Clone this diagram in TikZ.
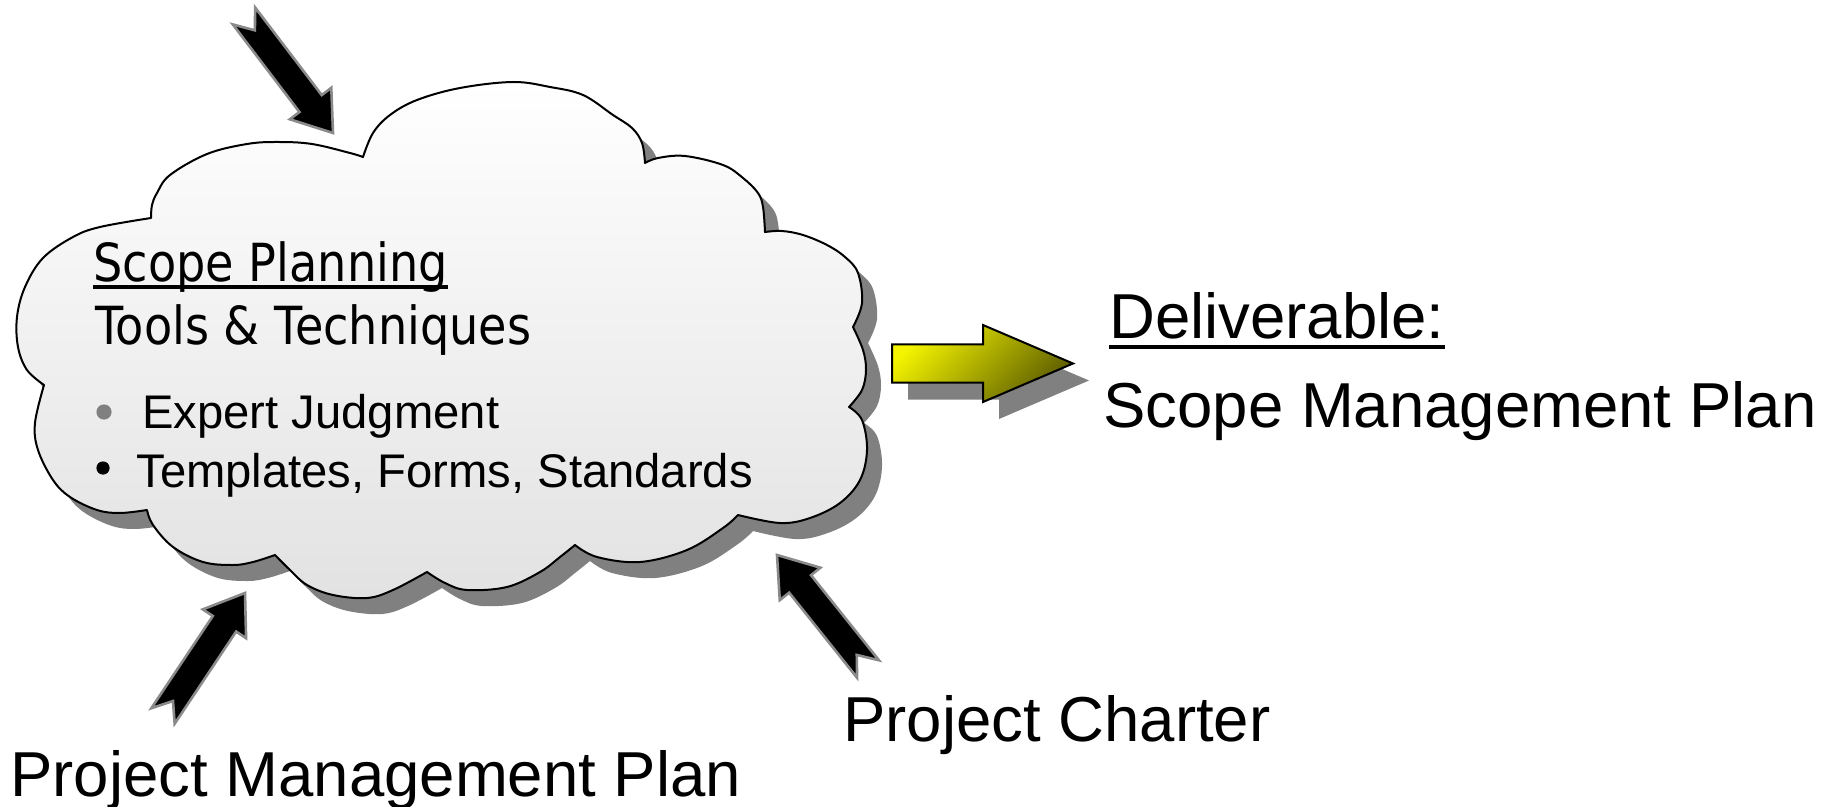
\documentclass[tikz,border=0pt]{standalone}
\usepackage{graphicx}
\usepackage{fontspec}
\setmainfont{Liberation Sans}
\newfontfamily\headfont{DejaVu Sans}
\usetikzlibrary{calc}

\definecolor{shadowgray}{HTML}{808080}
\definecolor{cloudbottom}{HTML}{E2E2E2}
\definecolor{arrowyellow}{HTML}{F4F400}
\definecolor{arrowolive}{HTML}{5E5E00}
\definecolor{arrowedge}{HTML}{8A8A8A}

\tikzset{
  biglabel/.style={inner sep=0pt, anchor=base west, font=\fontsize{31.75}{38}\selectfont},
  heading/.style={inner sep=0pt, anchor=base west, font=\headfont\fontsize{26.25}{31}\selectfont},
  itemtext/.style={inner sep=0pt, anchor=base west, font=\fontsize{23.6}{28}\selectfont},
  inputarrow/.style={fill=black, draw=arrowedge, line width=1.3pt, line join=miter},
  outline/.style={draw=black, line width=1pt, line join=round},
}

% notched block arrow from #1 (tail) to #2 (tip)
\newcommand\blockarrow[2]{%
  \path[inputarrow]
    ($(#1)!7pt!90:(#2)$)
    -- ($(#2)!18.5pt!(#1)!7pt!90:(#2)$)
    -- ($(#2)!18.5pt!(#1)!13pt!90:(#2)$)
    -- (#2)
    -- ($(#2)!18.5pt!(#1)!13pt!-90:(#2)$)
    -- ($(#2)!18.5pt!(#1)!7pt!-90:(#2)$)
    -- ($(#1)!7pt!-90:(#2)$)
    -- ($(#1)!9pt!(#2)$)
    -- cycle;}

% outline of the cloud, bump by bump
\newcommand\cloudoutline{%
 (363,157)
 -- plot[smooth,tension=.6] coordinates {(363,157) (373,133) (390,115) (417,100) (460,88) (513,82) (550,87) (583,95) (613,115) (632,128) (642,143) (645,163)}
 -- plot[smooth,tension=.6] coordinates {(645,163) (658,158) (685,156) (723,165) (743,178) (758,193) (763,207) (765,232)}
 -- plot[smooth,tension=.6] coordinates {(765,232) (782,231) (803,235) (827,245) (845,257) (858,273) (862,303) (853,327)}
 -- plot[smooth,tension=.6] coordinates {(853,327) (863,350) (866,370) (862,390) (849,407)}
 -- plot[smooth,tension=.6] coordinates {(849,407) (862,420) (867,450) (860,480) (840,503) (810,518) (780,523) (738,515)}
 -- plot[smooth,tension=.6] coordinates {(738,515) (723,528) (687,550) (640,562) (597,557) (575,545)}
 -- plot[smooth,tension=.6] coordinates {(575,545) (560,557) (540,572) (507,587) (467,590) (445,583) (427,572)}
 -- plot[smooth,tension=.6] coordinates {(427,572) (393,590) (367,598) (333,595) (307,585) (290,570) (275,555)}
 -- plot[smooth,tension=.6] coordinates {(275,555) (253,562) (233,565) (203,562) (173,547) (153,525) (147,510)}
 -- plot[smooth,tension=.6] coordinates {(147,510) (120,513) (97,510) (70,497) (53,480) (38,450) (35,423) (44,385)}
 -- plot[smooth,tension=.6] coordinates {(44,385) (27,370) (18,347) (17,317) (25,287) (43,258) (73,237) (100,227) (151,218)}
 -- plot[smooth,tension=.6] coordinates {(151,218) (152,205) (157,193) (170,175) (207,154) (247,144) (278,142) (312,144) (350,153) (363,157)}
 -- cycle}

% wide arrow from #1 (shaft start) to #2 (tip)
\newcommand\widearrow[2]{%
  ($(#1)+(0,-19)$) -- ($(#2)+(-90,-19)$) -- ($(#2)+(-90,-38.5)$) -- (#2)
  -- ($(#2)+(-90,38.5)$) -- ($(#2)+(-90,19)$) -- ($(#1)+(0,19)$) -- cycle}

\begin{document}
\begin{tikzpicture}[x=0.5pt,y=-0.5pt]
\useasboundingbox (0,0) rectangle (1829,807);

% cloud with its drop shadow
\fill[shadowgray, shift={(15,16)}] \cloudoutline;
\path[outline, top color=white, bottom color=cloudbottom] \cloudoutline;

% cloud contents
\node[heading] (sp) at (93,282) {\scalebox{0.88}[1]{Scope Planning}};
\draw[line width=1.6pt] ($(sp.base west)+(0,5)$) -- ($(sp.base east)+(0,5)$);
\node[heading] (tt) at (95,344) {\scalebox{0.88}[1]{Tools \& Techniques}};
\fill[shadowgray] (104,412) circle (3.8pt);
\node[itemtext] (ej) at (142,428) {Expert Judgment};
\fill[black] (103,468) circle (3.3pt);
\node[itemtext] (tf) at (136,487) {Templates, Forms, Standards};

% input arrows
\coordinate (topTail) at (244,16);
\coordinate (topTip) at (333,133);
\coordinate (pmpTail) at (163,716);
\coordinate (pmpTip) at (245,593);
\coordinate (pcTail) at (868,669);
\coordinate (pcTip) at (777,555);
\blockarrow{topTail}{topTip}
\blockarrow{pmpTail}{pmpTip}
\blockarrow{pcTail}{pcTip}

% output arrow with its drop shadow
\coordinate (outStart) at (892,363.5);
\coordinate (outTip) at (1073,363.5);
\fill[shadowgray, transform canvas={xshift=8pt, yshift=-8.5pt}] \widearrow{outStart}{outTip};
\path[outline, line join=miter, top color=arrowyellow, bottom color=arrowolive, shading angle=45] \widearrow{outStart}{outTip};

% labels
\node[biglabel] (dl) at (1109,338) {Deliverable:};
\draw[line width=2.2pt] ($(dl.base west)+(0,9)$) -- ($(dl.base east)+(0,9)$);
\node[biglabel] (smp) at (1103,427) {Scope Management Plan};
\node[biglabel] (pc) at (843,741) {Project Charter};
\node[biglabel] (pmp) at (10,796) {Project Management Plan};
\end{tikzpicture}
\end{document}
